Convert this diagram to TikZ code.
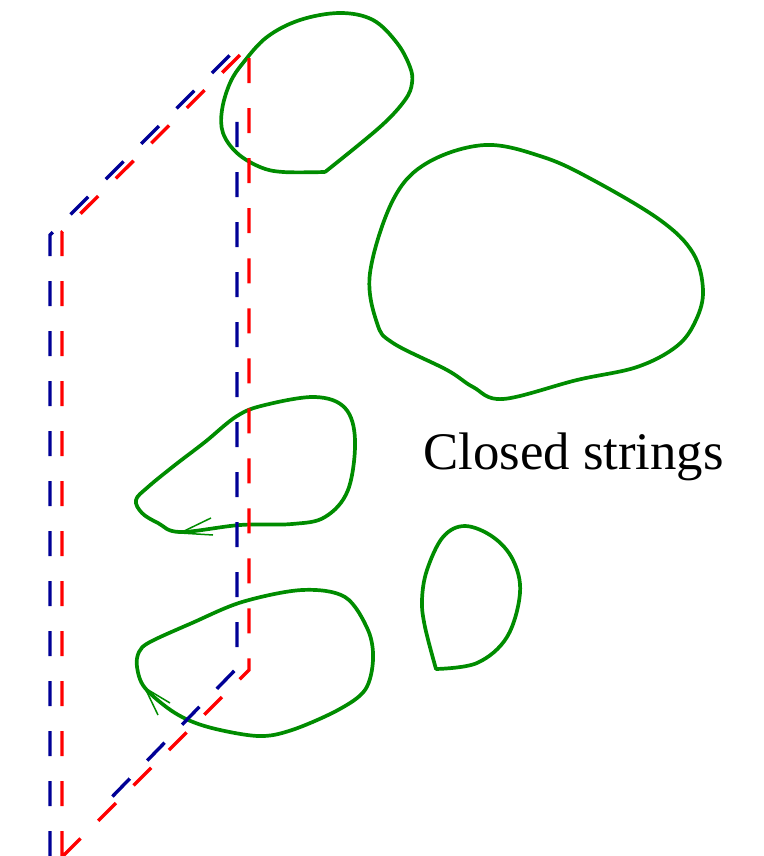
\documentclass[tikz,border=0pt]{standalone}
\usepackage{fontspec}
\setmainfont{Liberation Serif}
\definecolor{strgreen}{RGB}{0,140,0}
\definecolor{strblue}{RGB}{0,0,150}
\definecolor{strred}{RGB}{255,0,0}
\begin{document}
\begin{tikzpicture}[x=1pt,y=-1pt,
  loop/.style={draw=strgreen,line width=3.7pt,line join=round,line cap=round},
  barb/.style={draw=strgreen,line width=1.5pt},
  bluedash/.style={draw=strblue,line width=3.4pt,dash pattern=on 25pt off 25pt},
  reddash/.style={draw=strred,line width=3.4pt,dash pattern=on 25pt off 25pt}]
\useasboundingbox (0,0) rectangle (763,856);
% closed strings
\draw[loop] plot[smooth,tension=0.6] coordinates {(325,172) (283,172) (260,167) (237,153) (223,133) (222,110) (230,83) (243,63) (267,37) (300,20) (340,13) (373,20) (397,43) (410,67) (412,83) (405,100) (380,127) (325,172)};
\draw[loop] plot[smooth cycle,tension=0.6] coordinates {(485,145) (543,157) (593,180) (660,220) (693,253) (703,290) (696,320) (677,346) (637,367) (577,380) (503,399) (473,387) (447,370) (393,343) (377,323) (370,273) (393,200) (427,163)};
\draw[loop] plot[smooth cycle,tension=0.6] coordinates {(180,532) (240,525) (292,524) (325,517) (348,490) (355,440) (345,408) (315,397) (265,405) (237,416) (205,442) (175,465) (148,487) (136,500) (142,513) (158,523)};
\draw[loop] plot[smooth cycle,tension=0.55] coordinates {(145,688) (175,713) (208,727) (258,736) (292,730) (338,710) (365,690) (373,660) (368,630) (345,597) (302,590) (242,602) (192,623) (150,642) (139,652) (137,667)};
\draw[loop] plot[smooth,tension=0.6] coordinates {(436,669) (477,663) (507,637) (520,593) (513,560) (493,537) (465,526) (443,537) (427,570) (422,600) (425,627) (436,669)};
\draw[barb] (211,518) -- (180,533) -- (213,535);
\draw[barb] (170,703) -- (145,688) -- (158,715);
% D-brane outlines
\draw[bluedash] (50,856) -- (50,235) -- (232,53);
\draw[bluedash] (237,122) -- (237,668) -- (110,799);
\draw[reddash] (62,856) -- (62,232) -- (249,46) -- (249,670) -- (62,857);
\node[anchor=base west,inner sep=0pt,font=\fontsize{52.8}{62}\selectfont] (label) at (423,469) {Closed strings};
\end{tikzpicture}
\end{document}
